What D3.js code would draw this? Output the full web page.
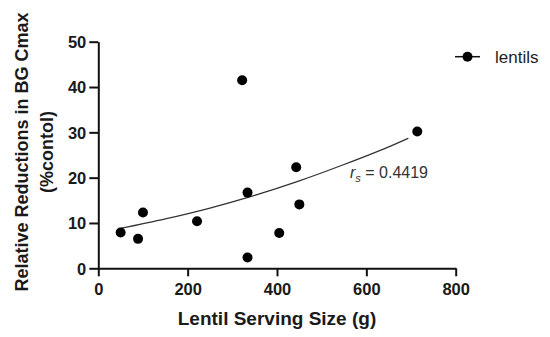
<!DOCTYPE html>
<html>
<head>
<meta charset="utf-8">
<script src="https://cdn.jsdelivr.net/npm/d3@7"></script>
<style>
  body { margin: 0; background: #fff; }
  svg { display: block; font-family: "Liberation Sans", Arial, sans-serif; }
</style>
</head>
<body>
<div id="chart"></div>
<script>
// serving size (g) vs. relative reduction in BG Cmax (% control)
const servingSize = [50, 89, 100, 221, 322, 334, 334, 405, 443, 450, 714];
const reduction   = [7.9, 6.5, 12.3, 10.4, 41.5, 16.7, 2.4, 7.8, 22.3, 14.1, 30.2];

// fitted trend line
const fitX = [50, 150, 250, 350, 450, 550, 650, 694];
const fitY = [8.8, 10.9, 13.3, 16.1, 19.3, 22.9, 26.8, 28.7];

const xTicks = [0, 200, 400, 600, 800];
const yTicks = [0, 10, 20, 30, 40, 50];

const width = 550, height = 337;

const svg = d3.select("#chart").append("svg")
    .attr("width", width)
    .attr("height", height);

const x = d3.scaleLinear().domain([0, 800]).range([98.3, 455.7]);
const y = d3.scaleLinear().domain([0, 50]).range([268.3, 41.7]);

// axes
const xAxis = svg.append("g")
    .attr("transform", `translate(0,${y(0)})`)
    .call(d3.axisBottom(x).tickValues(xTicks).tickSize(8).tickSizeOuter(0).tickPadding(6));

const yAxis = svg.append("g")
    .attr("transform", `translate(${x(0)},0)`)
    .call(d3.axisLeft(y).tickValues(yTicks).tickSize(9).tickSizeOuter(0).tickPadding(3));

[xAxis, yAxis].forEach(ax => {
    ax.select(".domain").attr("stroke", "#111").attr("stroke-width", 2);
    ax.selectAll(".tick line").attr("stroke", "#111").attr("stroke-width", 2);
    ax.selectAll(".tick text")
        .attr("fill", "#1a1a1a")
        .style("font-size", "16.5px")
        .style("font-weight", "bold")
        .style("font-family", "'Liberation Sans', Arial, sans-serif");
});
xAxis.selectAll(".tick text").attr("dy", "0.75em");
yAxis.selectAll(".tick text").attr("dy", "0.36em");

// trend curve
const line = d3.line()
    .x(d => x(d[0]))
    .y(d => y(d[1]))
    .curve(d3.curveMonotoneX);

svg.append("path")
    .datum(d3.zip(fitX, fitY))
    .attr("d", line)
    .attr("fill", "none")
    .attr("stroke", "#333")
    .attr("stroke-width", 1.3);

// points
svg.append("g")
    .selectAll("circle")
    .data(d3.zip(servingSize, reduction))
    .enter().append("circle")
    .attr("cx", d => x(d[0]))
    .attr("cy", d => y(d[1]))
    .attr("r", 5)
    .attr("fill", "#000");

// correlation label
const rs = svg.append("text")
    .attr("x", 350)
    .attr("y", 178)
    .attr("fill", "#333")
    .style("font-size", "16px");
rs.append("tspan").style("font-style", "italic").text("r");
rs.append("tspan").style("font-style", "italic").style("font-size", "11px").attr("dy", 4).text("s");
rs.append("tspan").attr("dy", -4).text(" = 0.4419");

// legend
const legend = svg.append("g").attr("transform", "translate(455,56.7)");
legend.append("line").attr("x1", 0).attr("x2", 25).attr("stroke", "#111").attr("stroke-width", 1.5);
legend.append("circle").attr("cx", 12.5).attr("r", 5).attr("fill", "#000");
legend.append("text").attr("x", 40).attr("dy", "0.36em").attr("fill", "#222")
    .style("font-size", "17px").text("lentils");

// axis titles
svg.append("text")
    .attr("x", x(400))
    .attr("y", 324.5)
    .attr("text-anchor", "middle")
    .attr("fill", "#1a1a1a")
    .style("font-size", "19px")
    .style("font-weight", "bold")
    .text("Lentil Serving Size (g)");

const yTitle = svg.append("text")
    .attr("transform", "translate(28,152) rotate(-90)")
    .attr("text-anchor", "middle")
    .attr("fill", "#1a1a1a")
    .style("font-size", "18px")
    .style("font-weight", "bold");
yTitle.append("tspan").attr("x", 0).attr("y", 0).text("Relative Reductions in BG Cmax");
yTitle.append("tspan").attr("x", 0).attr("y", 25).text("(%contol)");
</script>
</body>
</html>
